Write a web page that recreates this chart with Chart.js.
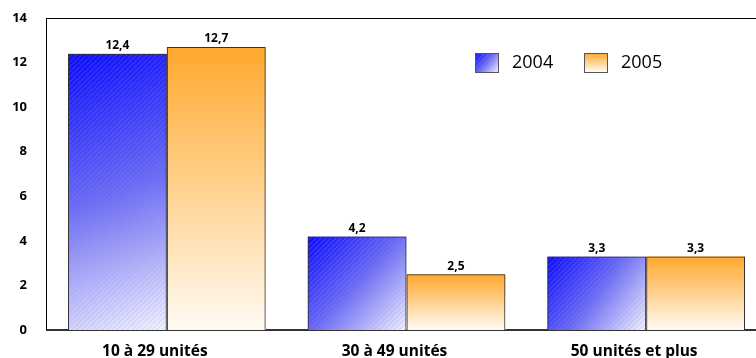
<!DOCTYPE html>
<html>
<head>
<meta charset="utf-8">
<script src="https://cdn.jsdelivr.net/npm/chart.js@4"></script>
<style>
  html, body { margin: 0; padding: 0; background: #fff; }
  #wrap { width: 756px; height: 358px; overflow: hidden; position: relative; }
  canvas { display: block; }
</style>
</head>
<body>
<div id="wrap"><canvas id="chart" width="780" height="372" style="width:780px;height:372px"></canvas></div>
<script>
// Categories and values
const categories = ['10 à 29 unités', '30 à 49 unités', '50 unités et plus'];
const years = ['2004', '2005'];
const values2004 = [12.4, 4.2, 3.3];
const values2005 = [12.7, 2.5, 3.3];
const yTicks = [0, 2, 4, 6, 8, 10, 12, 14];

const FONT = '"Open Sans", Lato, sans-serif';

// Blue fill: diagonal gradient with thin hatch lines
function paintBlue(c, left, top, w, h) {
    const g = c.createLinearGradient(left, top, left + w, top + h);
    g.addColorStop(0, '#0a0aff');
    g.addColorStop(0.5, '#6a6af6');
    g.addColorStop(1, '#f4f4ff');
    c.save();
    c.beginPath();
    c.rect(left, top, w, h);
    c.clip();
    c.fillStyle = g;
    c.fillRect(left, top, w, h);
    c.strokeStyle = 'rgba(150,150,210,0.45)';
    c.lineWidth = 0.8;
    c.beginPath();
    for (let s = -h; s < w + h; s += 5) {
        c.moveTo(left + s, top + h);
        c.lineTo(left + s + h, top);
    }
    c.stroke();
    c.restore();
}

// Orange fill: vertical gradient down to white
function paintOrange(c, left, top, w, h) {
    const g = c.createLinearGradient(0, top, 0, top + h);
    g.addColorStop(0, '#ffa82c');
    g.addColorStop(1, '#fffbf4');
    c.fillStyle = g;
    c.fillRect(left, top, w, h);
}

const painters = [paintBlue, paintOrange];

const barFills = {
    id: 'barFills',
    beforeDatasetDraw(chart, args) {
        const c = chart.ctx;
        const paint = painters[args.index];
        args.meta.data.forEach(el => {
            const p = el.getProps(['x', 'y', 'base', 'width'], true);
            paint(c, p.x - p.width / 2, p.y, p.width, p.base - p.y);
        });
    }
};

const valueLabels = {
    id: 'valueLabels',
    afterDatasetsDraw(chart) {
        const c = chart.ctx;
        c.save();
        c.font = 'bold 12px ' + FONT;
        c.fillStyle = '#000';
        c.textAlign = 'center';
        c.textBaseline = 'bottom';
        chart.data.datasets.forEach((ds, i) => {
            chart.getDatasetMeta(i).data.forEach((el, j) => {
                c.fillText(String(ds.data[j]).replace('.', ','), el.x, el.y - 2);
            });
        });
        c.restore();
    }
};

const frameAndLegend = {
    id: 'frameAndLegend',
    afterDraw(chart) {
        const c = chart.ctx;
        const top = Math.round(chart.scales.y.getPixelForValue(14));
        const left = Math.round(chart.scales.x.left);
        const bottom = Math.round(chart.scales.y.getPixelForValue(0));
        c.save();
        // plot frame: top and left edges
        c.fillStyle = '#000';
        c.fillRect(left - 1, top, chart.width - left, 1);
        c.fillRect(left - 1, top, 1, bottom - top);

        // legend
        const items = [{ x: 475, text: years[0] }, { x: 584, text: years[1] }];
        items.forEach((it, i) => {
            painters[i](c, it.x, 53, 23, 19);
            c.strokeStyle = '#555';
            c.lineWidth = 1;
            c.strokeRect(it.x + 0.5, 53.5, 23, 19);
            c.font = '18px ' + FONT;
            c.fillStyle = '#000';
            c.textAlign = 'left';
            c.textBaseline = 'middle';
            c.fillText(it.text, it.x + 37, 63);
        });
        c.restore();
    }
};

new Chart(document.getElementById('chart'), {
    type: 'bar',
    data: {
        labels: categories,
        datasets: [
            { label: years[0], data: values2004, backgroundColor: 'rgba(0,0,0,0)', borderColor: '#333' },
            { label: years[1], data: values2005, backgroundColor: 'rgba(0,0,0,0)', borderColor: '#333' }
        ]
    },
    options: {
        responsive: false,
        animation: false,
        layout: { padding: { top: 18, right: 14, left: 0, bottom: 0 } },
        datasets: {
            bar: {
                borderWidth: 1,
                barPercentage: 1,
                categoryPercentage: 0.825
            }
        },
        plugins: {
            colors: { enabled: false },
            legend: { display: false },
            tooltip: { enabled: false }
        },
        scales: {
            x: {
                grid: { display: false, drawTicks: false },
                border: { display: true, color: '#333', width: 2 },
                ticks: {
                    padding: 12,
                    labelOffset: -12,
                    color: '#000',
                    font: { family: FONT, size: 15.5, weight: 'bold' }
                },
                afterFit(scale) { scale.height = 42; }
            },
            y: {
                min: 0,
                max: 14,
                grid: { display: false, drawTicks: false },
                border: { display: false },
                afterBuildTicks(scale) { scale.ticks = yTicks.map(v => ({ value: v })); },
                ticks: {
                    padding: 20,
                    color: '#000',
                    font: { family: FONT, size: 13, weight: 'bold' }
                },
                afterFit(scale) {
                    scale.width = 47;
                    // tick padding only sets the gap to the axis, not extra room on top
                    scale.paddingTop = 0;
                    scale.paddingBottom = 0;
                }
            }
        }
    },
    plugins: [barFills, valueLabels, frameAndLegend]
});
</script>
</body>
</html>
